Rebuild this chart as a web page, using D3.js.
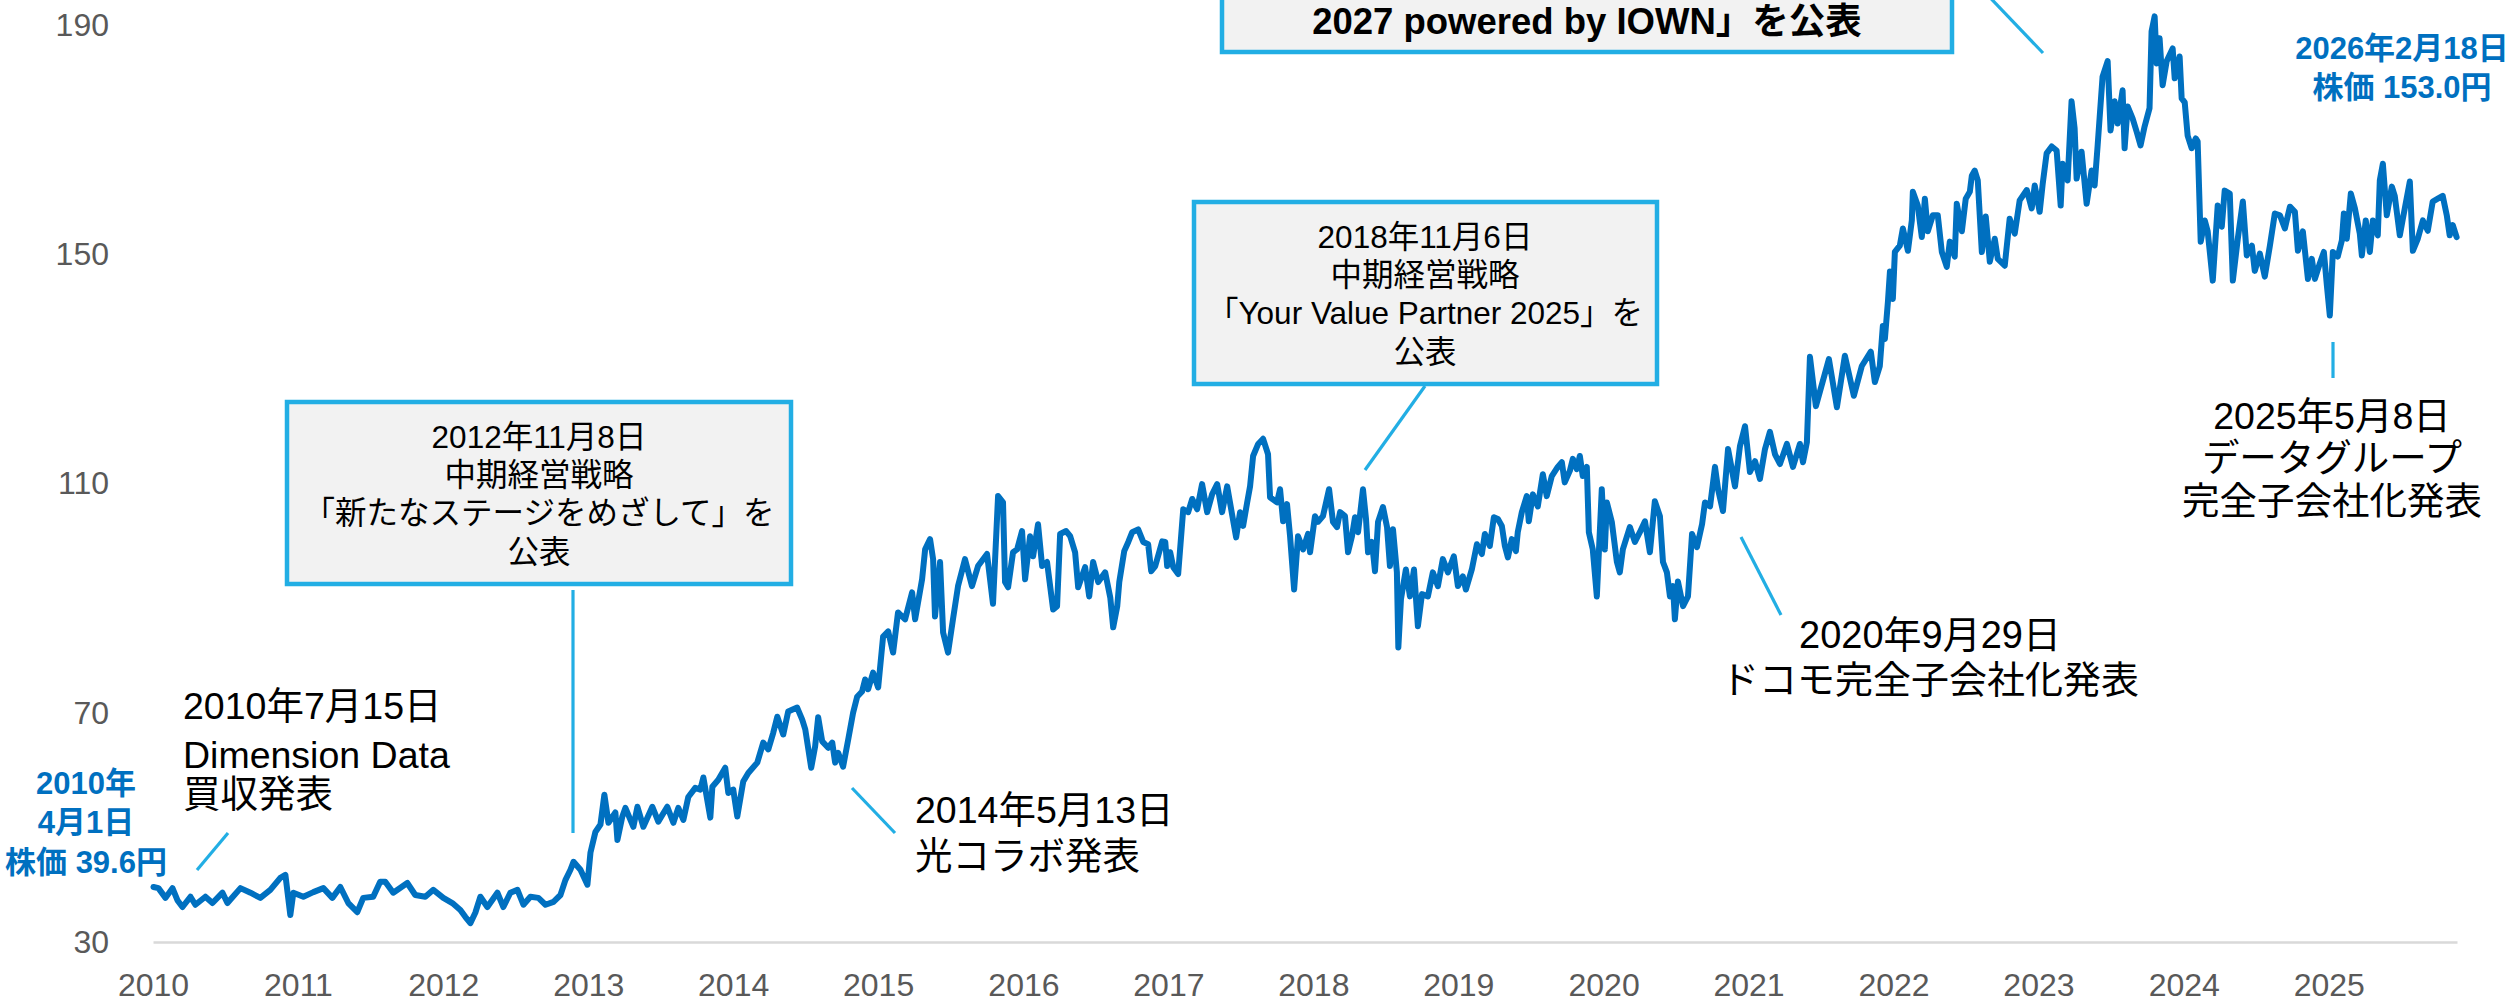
<!DOCTYPE html>
<html><head><meta charset="utf-8">
<script src="https://cdn.jsdelivr.net/npm/d3@7"></script>
<style>body{margin:0;background:#fff}svg{display:block}</style>
</head><body><svg id="chart" width="2514" height="1004"></svg>
<script>
// ---- DATA (dates as decimal years, price in yen, split-adjusted) ----
const priceDates = [
2010.250,2010.284,2010.333,2010.381,2010.415,2010.450,2010.505,2010.539,2010.608,2010.657,2010.726,2010.760,2010.850,2010.919,2010.987,
2011.056,2011.125,2011.160,2011.194,2011.215,2011.284,2011.353,2011.422,2011.484,2011.539,2011.594,2011.656,2011.697,2011.766,2011.814,2011.849,2011.904,
2012.001,2012.056,2012.125,2012.180,2012.249,2012.311,2012.366,2012.400,2012.435,2012.469,2012.504,2012.552,2012.621,2012.662,2012.710,2012.759,2012.800,2012.848,2012.903,2012.952,
2013.007,2013.055,2013.089,2013.124,2013.145,2013.193,2013.241,2013.262,2013.296,2013.331,2013.358,2013.386,2013.434,2013.448,2013.482,2013.503,2013.558,2013.586,2013.627,2013.689,2013.730,2013.792,2013.834,2013.868,2013.903,2013.937,2013.985,
2014.020,2014.041,2014.089,2014.103,2014.144,2014.192,2014.213,2014.247,2014.275,2014.316,2014.351,2014.413,2014.454,2014.489,2014.523,2014.551,2014.592,2014.626,2014.688,2014.723,2014.744,2014.785,2014.812,2014.833,2014.861,2014.902,2014.930,2014.950,2014.971,
2015.005,2015.040,2015.074,2015.102,2015.136,2015.157,2015.178,2015.212,2015.247,2015.281,2015.316,2015.350,2015.384,2015.433,2015.481,2015.502,2015.550,2015.571,2015.605,2015.626,2015.639,2015.674,2015.695,2015.729,2015.763,2015.798,2015.846,2015.894,2015.936,2015.998,
2016.039,2016.074,2016.108,2016.122,2016.143,2016.177,2016.205,2016.239,2016.260,2016.294,2016.315,2016.349,2016.377,2016.411,2016.453,2016.480,2016.501,2016.542,2016.570,2016.604,2016.625,2016.673,2016.701,2016.728,2016.763,2016.811,2016.846,2016.866,2016.894,2016.908,2016.942,2016.970,2016.997,
2017.038,2017.073,2017.107,2017.128,2017.156,2017.204,2017.225,2017.238,2017.259,2017.280,2017.314,2017.349,2017.383,2017.411,2017.445,2017.479,2017.514,2017.548,2017.583,2017.617,2017.652,2017.686,2017.714,2017.741,2017.762,2017.790,2017.810,2017.831,2017.866,2017.900,2017.934,2017.948,2017.996,
2018.017,2018.038,2018.065,2018.086,2018.114,2018.141,2018.176,2018.210,2018.224,2018.258,2018.279,2018.313,2018.355,2018.382,2018.410,2018.431,2018.465,2018.486,2018.513,2018.534,2018.555,2018.589,2018.610,2018.624,2018.651,2018.672,2018.693,2018.727,2018.755,2018.775,2018.796,2018.823,2018.833,2018.851,2018.885,2018.913,2018.941,2018.968,2018.996,
2019.037,2019.071,2019.106,2019.140,2019.175,2019.216,2019.244,2019.278,2019.299,2019.340,2019.375,2019.409,2019.430,2019.464,2019.492,2019.520,2019.547,2019.568,2019.589,2019.616,2019.644,2019.657,2019.685,2019.719,2019.733,2019.761,2019.795,2019.830,2019.857,2019.892,2019.933,2019.961,2019.981,
2020.016,2020.037,2020.064,2020.085,2020.105,2020.133,2020.147,2020.174,2020.202,2020.236,2020.257,2020.271,2020.305,2020.340,2020.360,2020.381,2020.429,2020.464,2020.498,2020.533,2020.567,2020.601,2020.636,2020.657,2020.684,2020.705,2020.726,2020.739,2020.760,2020.795,2020.829,2020.857,2020.891,2020.926,2020.946,2020.981,
2021.015,2021.036,2021.070,2021.105,2021.153,2021.187,2021.222,2021.256,2021.291,2021.325,2021.360,2021.394,2021.429,2021.463,2021.511,2021.553,2021.601,2021.622,2021.649,2021.670,2021.711,2021.801,2021.856,2021.911,2021.973,
2022.028,2022.090,2022.118,2022.152,2022.173,2022.187,2022.208,2022.222,2022.242,2022.256,2022.290,2022.311,2022.346,2022.373,2022.380,2022.414,2022.442,2022.463,2022.483,2022.518,2022.552,2022.580,2022.614,2022.635,2022.669,2022.683,2022.718,2022.745,2022.773,2022.787,2022.807,2022.828,2022.856,2022.883,2022.911,2022.945,2022.966,
2023.014,2023.048,2023.083,2023.117,2023.166,2023.200,2023.221,2023.255,2023.276,2023.303,2023.338,2023.372,2023.400,2023.413,2023.448,2023.475,2023.496,2023.510,2023.544,2023.579,2023.613,2023.634,2023.655,2023.689,2023.724,2023.744,2023.772,2023.793,2023.827,2023.841,2023.862,2023.896,2023.924,2023.951,2023.979,
2024.013,2024.027,2024.048,2024.062,2024.082,2024.103,2024.131,2024.172,2024.186,2024.220,2024.234,2024.255,2024.275,2024.303,2024.331,2024.344,2024.365,2024.393,2024.413,2024.448,2024.482,2024.510,2024.530,2024.565,2024.586,2024.620,2024.655,2024.682,2024.717,2024.737,2024.772,2024.806,2024.841,2024.875,2024.910,2024.944,2024.979,
2025.013,2025.034,2025.068,2025.103,2025.130,2025.151,2025.185,2025.213,2025.234,2025.254,2025.275,2025.309,2025.337,2025.351,2025.371,2025.399,2025.427,2025.461,2025.475,2025.502,2025.530,2025.551,2025.585,2025.599,2025.620,2025.647,2025.682,2025.702,2025.737,2025.758,2025.806,2025.827,2025.861,2025.896,2025.930,2025.964,2025.999,
2026.033,2026.061,2026.081,2026.102,2026.129
];
const prices = [
39.6,39.4,37.7,39.4,37.3,36.1,37.9,36.5,37.9,36.8,38.6,36.8,39.4,38.6,37.7,
39.1,41.2,41.7,34.7,38.6,37.9,38.7,39.4,37.7,39.6,36.8,35.2,37.7,37.9,40.5,40.5,38.6,
40.3,38.2,37.9,39.1,37.7,36.8,35.6,34.4,33.3,35.1,37.9,36.1,38.6,36.1,38.6,39.1,36.5,37.9,37.7,36.5,
37.0,38.2,40.8,42.6,44.0,42.6,40.0,45.6,49.2,50.5,55.7,50.8,52.6,47.8,51.9,53.4,50.1,53.6,50.1,53.6,51.0,53.6,50.8,53.4,51.3,55.3,56.9,
56.6,58.7,51.7,57.1,58.3,60.4,56.0,56.6,51.9,58.0,59.5,61.3,64.8,63.6,66.5,69.3,66.2,70.2,70.9,68.8,67.1,60.4,64.1,69.2,65.0,63.9,64.8,61.3,63.0,
60.6,65.3,70.0,72.8,73.7,75.8,74.1,77.0,74.4,83.3,84.2,80.5,87.5,86.3,91.0,86.3,93.3,98.5,100.3,96.8,86.8,96.3,84.0,80.5,86.3,92.1,96.8,92.1,95.6,97.7,
89.0,107.8,106.7,92.8,91.9,98.0,98.5,101.7,93.3,100.8,97.3,102.9,95.6,96.3,88.0,88.6,101.2,101.7,100.8,98.0,91.9,95.4,90.3,96.3,92.8,94.5,90.1,84.9,88.6,92.8,98.2,99.8,101.5,
102.0,99.8,99.4,94.7,95.6,99.9,99.8,95.6,98.0,95.4,94.2,105.5,105.0,107.3,105.5,109.9,105.0,108.1,109.9,105.0,109.5,104.6,100.6,105.0,102.6,106.7,109.5,114.8,116.9,117.8,115.1,107.6,106.7,
109.0,103.4,106.4,100.8,91.5,100.8,98.5,101.2,98.0,104.3,103.3,104.3,109.0,103.3,102.4,105.0,104.3,98.0,100.8,104.1,101.5,109.0,103.8,98.0,99.8,94.7,103.3,105.9,102.4,95.6,102.0,94.5,81.4,89.8,95.0,90.3,95.0,85.1,90.7,
90.3,94.5,92.1,96.8,94.5,97.3,92.1,93.8,91.5,95.0,99.4,97.7,101.2,99.1,104.1,103.8,102.6,99.1,97.1,100.3,98.2,101.5,105.0,107.8,103.4,108.1,106.0,111.6,107.8,111.3,112.9,113.7,110.2,
112.2,114.3,112.5,114.8,111.3,112.9,101.5,98.5,90.3,109.0,98.5,106.7,103.3,96.3,94.5,98.5,102.4,99.8,101.5,103.4,98.0,106.9,104.3,96.3,94.5,90.3,92.1,86.3,92.9,88.6,90.3,101.2,98.9,102.9,106.7,106.0,
112.9,109.0,105.2,116.0,109.5,116.5,120.0,112.0,113.9,110.8,116.0,119.0,115.1,113.4,116.9,112.9,116.9,113.7,117.2,132.1,123.5,131.7,123.3,132.3,125.3,
130.5,133.0,127.7,130.5,137.5,135.2,141.7,147.0,142.2,150.4,151.5,154.5,150.6,155.9,160.9,158.5,153.0,159.7,154.0,156.8,156.8,150.4,147.8,152.2,149.6,158.8,154.0,159.7,160.9,163.7,164.6,162.9,150.4,156.6,148.7,152.7,149.2,
148.0,156.2,153.6,159.4,161.2,158.0,162.0,157.4,162.3,167.6,168.8,168.1,158.5,165.8,162.9,176.7,172.0,163.2,167.9,158.8,164.6,162.0,169.0,181.0,183.7,171.6,176.7,172.8,178.6,168.5,175.8,173.7,171.4,169.0,172.3,
175.5,188.9,191.5,183.3,187.7,179.5,183.7,185.9,180.7,184.5,177.2,176.5,170.7,168.5,170.2,169.7,152.2,155.9,154.0,145.4,158.5,154.8,161.1,160.6,145.4,152.7,159.2,149.8,151.5,147.1,150.1,146.1,151.5,157.1,156.8,154.5,158.3,
157.4,150.6,154.0,145.7,149.2,145.7,148.4,150.4,144.5,139.3,150.4,149.6,152.4,157.1,152.7,160.6,158.0,153.6,149.8,155.9,150.4,155.9,153.3,162.9,165.8,156.8,161.8,160.2,153.3,156.2,162.7,150.6,152.7,155.9,154.1,159.2,159.7,
160.2,156.8,153.3,155.1,153.0
];
const yTickValues = [30, 70, 110, 150, 190];
const xTickYears = [2010,2011,2012,2013,2014,2015,2016,2017,2018,2019,2020,2021,2022,2023,2024,2025];
const startLabel = ["2010年", "4月1日", "株価 39.6円"];
const endLabel = ["2026年2月18日", "株価 153.0円"];
const noteDD = ["2010年7月15日", "Dimension Data", "買収発表"];
const note2012 = ["2012年11月8日", "中期経営戦略", "「新たなステージをめざして」を", "公表"];
const note2014 = ["2014年5月13日", "光コラボ発表"];
const note2018 = ["2018年11月6日", "中期経営戦略", "「Your Value Partner 2025」を", "公表"];
const note2020 = ["2020年9月29日", "ドコモ完全子会社化発表"];
const note2023 = ["2027 powered by IOWN」を公表"];
const note2025 = ["2025年5月8日", "データグループ", "完全子会社化発表"];

// ---- helpers ----
function fromDecimal(d) {
  const yr = Math.floor(d);
  const s = new Date(yr, 0, 1), e = new Date(yr + 1, 0, 1);
  return new Date(s.getTime() + (d - yr) * (e - s));
}
const series = priceDates.map((d, i) => ({ date: fromDecimal(d), v: prices[i] }));

const svg = d3.select("#chart");
const FONT = "'Liberation Sans', Arial, 'Noto Sans CJK JP', sans-serif";
const LINE = "#0070C0", ACCENT = "#22AEE4";

const x = d3.scaleTime()
  .domain([new Date(2010, 3, 1), new Date(2026, 1, 18)])
  .range([153, 2457]);
const y = d3.scaleLinear().domain([30, 190]).range([942, 25]);

// x axis
const xAxis = svg.append("g").attr("transform", "translate(0,942)")
  .call(d3.axisBottom(x)
    .tickValues(xTickYears.map(yr => new Date(yr, 3, 1)))
    .tickFormat(d3.timeFormat("%Y"))
    .tickSize(0).tickSizeOuter(0).tickPadding(31));
xAxis.select(".domain").attr("stroke", "#D9D9D9").attr("stroke-width", 2.5);
xAxis.selectAll("text").attr("font-family", FONT).attr("font-size", 32).attr("fill", "#595959");

// y axis
const yAxis = svg.append("g").attr("transform", "translate(153,0)")
  .call(d3.axisLeft(y).tickValues(yTickValues).tickSize(0).tickPadding(44));
yAxis.select(".domain").remove();
yAxis.selectAll("text").attr("font-family", FONT).attr("font-size", 32).attr("fill", "#595959");

// price line
svg.append("path").datum(series)
  .attr("fill", "none").attr("stroke", LINE).attr("stroke-width", 6)
  .attr("stroke-linejoin", "round").attr("stroke-linecap", "round")
  .attr("d", d3.line().x(d => x(d.date)).y(d => y(d.v)));

// ---- annotations ----
function textBlock(lines, tx, ys, opts) {
  const g = svg.append("g");
  lines.forEach((t, i) => {
    g.append("text").attr("x", tx).attr("y", ys[i]).attr("dy", "0.36em")
      .attr("text-anchor", opts.anchor || "middle")
      .attr("font-family", FONT).attr("font-size", opts.size)
      .attr("font-weight", opts.bold ? "bold" : "normal")
      .attr("fill", opts.fill || "#000").text(t);
  });
}
function pointer(x1, y1, x2, y2) {
  svg.append("line").attr("x1", x1).attr("y1", y1).attr("x2", x2).attr("y2", y2)
    .attr("stroke", ACCENT).attr("stroke-width", 3.2);
}
function box(x0, y0, x1, y1) {
  svg.append("rect").attr("x", x0 + 2).attr("y", y0 + 2).attr("width", x1 - x0).attr("height", y1 - y0)
    .attr("fill", "#BFBFBF").attr("opacity", 0.5);
  svg.append("rect").attr("x", x0).attr("y", y0).attr("width", x1 - x0).attr("height", y1 - y0)
    .attr("fill", "#F2F2F2").attr("stroke", ACCENT).attr("stroke-width", 4.5);
}

// start & end labels
textBlock(startLabel, 86, [783, 822, 862], { size: 31, bold: true, fill: LINE });
textBlock(endLabel, 2402, [48, 87], { size: 31, bold: true, fill: LINE });

// 2010 Dimension Data
pointer(228, 833, 197, 870);
textBlock(noteDD, 183, [705, 754, 793], { size: 37.5, anchor: "start" });

// 2012 box
box(287, 402, 791, 584);
textBlock(note2012, 539, [437, 475, 513, 552], { size: 31.5 });
pointer(573, 590, 573, 833);

// 2014
pointer(852, 788, 895, 833);
textBlock(note2014, 915, [809, 855], { size: 37.5, anchor: "start" });

// 2018 box
box(1194, 202, 1657, 384);
textBlock(note2018, 1425, [237, 275, 313, 352], { size: 31.5 });
pointer(1425, 386, 1365, 470);

// 2020
pointer(1741, 537, 1781, 615);
textBlock(note2020, 1930, [634, 679], { size: 38 });

// 2023 box (top, partly outside view)
box(1222, -40, 1952, 52);
textBlock(note2023, 1587, [21], { size: 36.5, bold: true });
pointer(1978, -15, 2043, 53);

// 2025
pointer(2333, 342, 2333, 378);
textBlock(note2025, 2332, [415, 457, 500], { size: 37.5 });
</script></body></html>
